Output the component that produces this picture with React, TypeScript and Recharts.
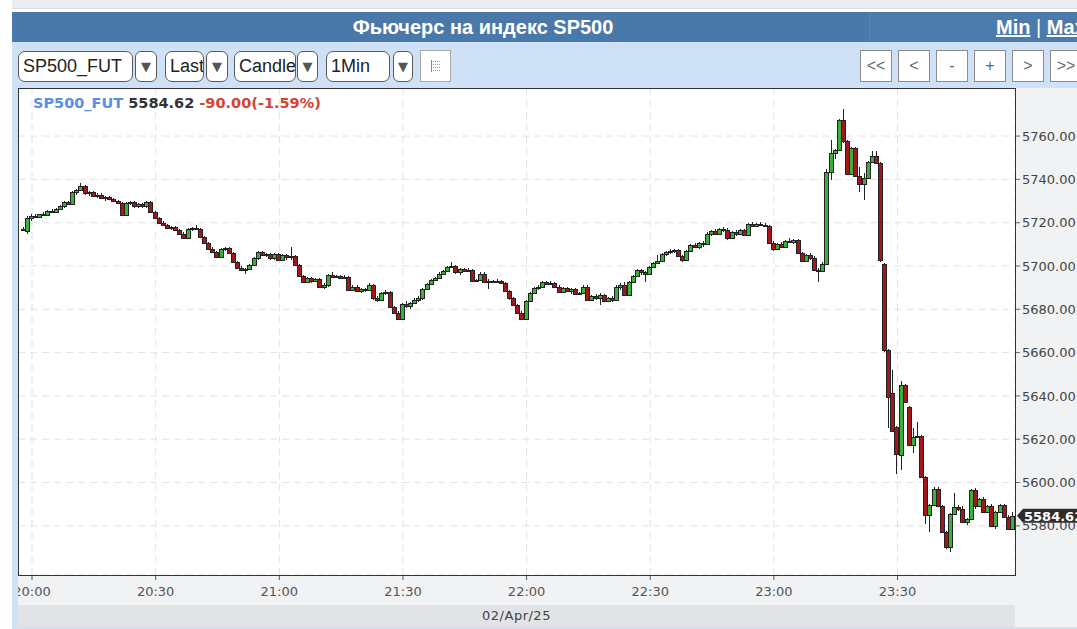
import React from 'react';
import { ComposedChart, Bar, XAxis, YAxis, CartesianGrid, ReferenceLine } from 'recharts';

const title = 'Фьючерс на индекс SP500';
const symbol = 'SP500_FUT';
const priceField = 'Last';
const chartType = 'Candle';
const barInterval = '1Min';
const navButtons = ['<<', '<', '-', '+', '>', '>>'];
const dateLabel = '02/Apr/25';
const lastPrice = 5584.62;
const changeAbs = -90.0;
const changePct = -1.59;

const firstCandleTime = '19:58';
const timeTicks = ['20:00', '20:30', '21:00', '21:30', '22:00', '22:30', '23:00', '23:30'];
const priceTicks = [5580, 5600, 5620, 5640, 5660, 5680, 5700, 5720, 5740, 5760];

// one-minute candles: [open, high, low, close]
const candles1958 = [
  [5717, 5718, 5716, 5717], [5716, 5723, 5715, 5722],
];

const candles20 = [
  [5722, 5724, 5721, 5723], [5723, 5724, 5722, 5722.5], [5722.5, 5724, 5722, 5724], [5724, 5725, 5723, 5723.5],
  [5723.5, 5726, 5723, 5725.5], [5725.5, 5726.5, 5724.5, 5725], [5725, 5727, 5724.5, 5726.5], [5726.5, 5728, 5726, 5727.5],
  [5727.5, 5730, 5727, 5729.5], [5729.5, 5730, 5728, 5728.5], [5728.5, 5734.5, 5728, 5734], [5734, 5735.5, 5733, 5735],
  [5735, 5738.5, 5734.5, 5737], [5737, 5737.5, 5733, 5733.5], [5733.5, 5734.5, 5732.5, 5734], [5734, 5734.5, 5732, 5732.5],
  [5732.5, 5733.5, 5731.5, 5733], [5733, 5733.5, 5731, 5731.5], [5731.5, 5732.5, 5730, 5732], [5732, 5732.5, 5730.5, 5731],
  [5731, 5731.5, 5729.5, 5730], [5730, 5730.5, 5728.5, 5729], [5729, 5729.5, 5723, 5723.5], [5723.5, 5729.5, 5723, 5729],
  [5729, 5730, 5728, 5729.5], [5729.5, 5730, 5727, 5727.5], [5727.5, 5729, 5727, 5728.5], [5728.5, 5729, 5727, 5727.5],
  [5727.5, 5730, 5727, 5729.5], [5729.5, 5730, 5724.5, 5725], [5725, 5725.5, 5721.5, 5722], [5722, 5722.5, 5719.5, 5720],
  [5720, 5721, 5718.5, 5719], [5719, 5719.5, 5717, 5717.5], [5717.5, 5718.5, 5716.5, 5718], [5718, 5718.5, 5716, 5716.5],
  [5716.5, 5717, 5714.5, 5715], [5715, 5715.5, 5712.5, 5713], [5713, 5717.5, 5712.5, 5717], [5717, 5718, 5716, 5717.5],
  [5717.5, 5719, 5716.5, 5717], [5717, 5717.5, 5713, 5713.5], [5713.5, 5714, 5710, 5710.5], [5710.5, 5711, 5707.5, 5708],
  [5708, 5709, 5706, 5706.5], [5706.5, 5707, 5703.5, 5704], [5704, 5708.5, 5703.5, 5708], [5708, 5709, 5707, 5708.5],
  [5708.5, 5709, 5705.5, 5706], [5706, 5706.5, 5701.5, 5702], [5702, 5702.5, 5698.5, 5699], [5699, 5700, 5697.5, 5698],
  [5698, 5699, 5696.5, 5698.5], [5698.5, 5701, 5698, 5700.5], [5700.5, 5704, 5700, 5703.5], [5703.5, 5707, 5703, 5706.5],
  [5706.5, 5707, 5704.5, 5705], [5705, 5706, 5704, 5705.5], [5705.5, 5706, 5703, 5703.5], [5703.5, 5706, 5703, 5705.5],
];

const candles21 = [
  [5705.5, 5706, 5702.5, 5703], [5703, 5705.5, 5702.5, 5705], [5705, 5705.5, 5703, 5704], [5704, 5709, 5703, 5704.5],
  [5704.5, 5705, 5700, 5700.5], [5700.5, 5701, 5695, 5695.5], [5695.5, 5696, 5692, 5692.5], [5692.5, 5695, 5692, 5694.5],
  [5694.5, 5695, 5692, 5693], [5693, 5694.5, 5692.5, 5694], [5694, 5694.5, 5690, 5690.5], [5690.5, 5692, 5689.5, 5691],
  [5691, 5696.5, 5690.5, 5696], [5696, 5697, 5694.5, 5695], [5695, 5696, 5694.5, 5695.5], [5695.5, 5696, 5694, 5694.5],
  [5694.5, 5696, 5694, 5695], [5695, 5695.5, 5688.5, 5689], [5689, 5691, 5688.5, 5690.5], [5690.5, 5691, 5688, 5688.5],
  [5688.5, 5690, 5687.5, 5689.5], [5689.5, 5690, 5688, 5689], [5689, 5692, 5688.5, 5691], [5691, 5691.5, 5684.5, 5685],
  [5685, 5686, 5683.5, 5684.5], [5684.5, 5688, 5684, 5687.5], [5687.5, 5689, 5686.5, 5688], [5688, 5688.5, 5680.5, 5681],
  [5681, 5681.5, 5678, 5678.5], [5678.5, 5679, 5675, 5675.5], [5675.5, 5683, 5675, 5682.5], [5682.5, 5684, 5680.5, 5681.5],
  [5681.5, 5683.5, 5680, 5683], [5683, 5685, 5682.5, 5684.5], [5684.5, 5686, 5683.5, 5685], [5685, 5690, 5684.5, 5689.5],
  [5689.5, 5692, 5689, 5691.5], [5691.5, 5694, 5691, 5693.5], [5693.5, 5695, 5693, 5694.5], [5694.5, 5697, 5694, 5696.5],
  [5696.5, 5698, 5696, 5697.5], [5697.5, 5700, 5697, 5699.5], [5699.5, 5702, 5699, 5700], [5700, 5700.5, 5696.5, 5697],
  [5697, 5699, 5696, 5698.5], [5698.5, 5699, 5697, 5697.5], [5697.5, 5699, 5697, 5698], [5698, 5698.5, 5692.5, 5693],
  [5693, 5694, 5692.5, 5693.5], [5693.5, 5697, 5693, 5696.5], [5696.5, 5697, 5692, 5692.5], [5692.5, 5694, 5689.5, 5693],
  [5693, 5693.5, 5692, 5692.5], [5692.5, 5694, 5692, 5693], [5693, 5693.5, 5691.5, 5692], [5692, 5692.5, 5688, 5688.5],
  [5688.5, 5689, 5684.5, 5685], [5685, 5685.5, 5681.5, 5682], [5682, 5682.5, 5678, 5678.5], [5678.5, 5679, 5675, 5675.5],
];

const candles22 = [
  [5675.5, 5684.5, 5675, 5684], [5684, 5688, 5683.5, 5687.5], [5687.5, 5690.5, 5687, 5690], [5690, 5691, 5689, 5690.5],
  [5690.5, 5693, 5690, 5692.5], [5692.5, 5693, 5691, 5691.5], [5691.5, 5693, 5691, 5692], [5692, 5692.5, 5690, 5690.5],
  [5690.5, 5691, 5687.5, 5688], [5688, 5690.5, 5687.5, 5690], [5690, 5690.5, 5688, 5688.5], [5688.5, 5690, 5687, 5689.5],
  [5689.5, 5690, 5686.5, 5687], [5687, 5688, 5686.5, 5687.5], [5687.5, 5691, 5687, 5690.5], [5690.5, 5691, 5684, 5684.5],
  [5684.5, 5686.5, 5684, 5686], [5686, 5687, 5684.5, 5685], [5685, 5687.5, 5682, 5686.5], [5686.5, 5687, 5683.5, 5684],
  [5684, 5685.5, 5683.5, 5685], [5685, 5686, 5683.5, 5684.5], [5684.5, 5691, 5684, 5690.5], [5690.5, 5692, 5689, 5691],
  [5691, 5692.5, 5686, 5686.5], [5686.5, 5693, 5686, 5692.5], [5692.5, 5696, 5692, 5695.5], [5695.5, 5698.5, 5695, 5698],
  [5698, 5698.5, 5696, 5697], [5697, 5697.5, 5692.5, 5696.5], [5696.5, 5700, 5696, 5699.5], [5699.5, 5702, 5699, 5701.5],
  [5701.5, 5705, 5701, 5702.5], [5702.5, 5706, 5702, 5705.5], [5705.5, 5707, 5704.5, 5706.5], [5706.5, 5708, 5705.5, 5707],
  [5707, 5708, 5706, 5707.5], [5707.5, 5708, 5704, 5704.5], [5704.5, 5705, 5702, 5703], [5703, 5707.5, 5702.5, 5707],
  [5707, 5710, 5706.5, 5709.5], [5709.5, 5710.5, 5708.5, 5709], [5709, 5711, 5708, 5710.5], [5710.5, 5711.5, 5709, 5710],
  [5710, 5715.5, 5709.5, 5715], [5715, 5716.5, 5714, 5716], [5716, 5717, 5714.5, 5715], [5715, 5717.5, 5714.5, 5717],
  [5717, 5718, 5715.5, 5716.5], [5716.5, 5717.5, 5712, 5713], [5713, 5716, 5712.5, 5715.5], [5715.5, 5716.5, 5714, 5715],
  [5715, 5717, 5714.5, 5716.5], [5716.5, 5717, 5714, 5714.5], [5714.5, 5720, 5714, 5719.5], [5719.5, 5720.5, 5718, 5718.5],
  [5718.5, 5720, 5718, 5719.5], [5719.5, 5720.5, 5718.5, 5719], [5719, 5720, 5718, 5718.5], [5718.5, 5719, 5710, 5710.5],
];

const candles23 = [
  [5710.5, 5711.5, 5707, 5708], [5708, 5710.5, 5707.5, 5710], [5710, 5711, 5708.5, 5709], [5709, 5712, 5708.5, 5711.5],
  [5711.5, 5713, 5710.5, 5711], [5711, 5712.5, 5710, 5712], [5712, 5712.5, 5705.5, 5706], [5706, 5706.5, 5702, 5702.5],
  [5702.5, 5705.5, 5702, 5705], [5705, 5706, 5703, 5703.5], [5703.5, 5704.5, 5697.5, 5698], [5698, 5699, 5692.5, 5697.5],
  [5697.5, 5702, 5697, 5701], [5701, 5745, 5700.5, 5743.5], [5743.5, 5758, 5739.5, 5752], [5752, 5754, 5749.5, 5753.5],
  [5753.5, 5768, 5753, 5767.5], [5767.5, 5772.5, 5757, 5757.5], [5757.5, 5758, 5742, 5742.5], [5742.5, 5755, 5742, 5754.5],
  [5754.5, 5755, 5741, 5741.5], [5741.5, 5745.5, 5734, 5738], [5738, 5743, 5730.5, 5740.5], [5740.5, 5748.5, 5740, 5748],
  [5748, 5753, 5747.5, 5751], [5751, 5753, 5747, 5747.5], [5747.5, 5748, 5702, 5703], [5701, 5701.5, 5660.5, 5661],
  [5661, 5661.5, 5625, 5639.5], [5641.5, 5652, 5623.5, 5624], [5625.5, 5626, 5604, 5613], [5612.5, 5647, 5606, 5645],
  [5645, 5645.5, 5636.5, 5637], [5635, 5635.5, 5617, 5617.5], [5617.5, 5625, 5613.5, 5621], [5621, 5628, 5620.5, 5621.5],
  [5621.5, 5622, 5602, 5602.5], [5602.5, 5603, 5581, 5585], [5585, 5590, 5577, 5589.5], [5589.5, 5598, 5589, 5597],
  [5597, 5598, 5588.5, 5589], [5589, 5589.5, 5576.5, 5577], [5577, 5577.5, 5569.5, 5570], [5570, 5586, 5568, 5585.5],
  [5585.5, 5595, 5585, 5588.5], [5588.5, 5589.5, 5587, 5588], [5588, 5589, 5581.5, 5582], [5582, 5583.5, 5580.5, 5583],
  [5583, 5597, 5582.5, 5596.5], [5596.5, 5597.5, 5588, 5589], [5589, 5593, 5588.5, 5592.5], [5592.5, 5593.5, 5586, 5586.5],
  [5586.5, 5589.5, 5586, 5589], [5589, 5590, 5579.5, 5580], [5580, 5587, 5578.5, 5586.5], [5586.5, 5590, 5586, 5589.5],
  [5589.5, 5590, 5583.5, 5584], [5584, 5585, 5578, 5578.5], [5578.5, 5586.5, 5578, 5584.62],
];

const toMin = (t: string) => {
  const [h, m] = t.split(':').map(Number);
  return h * 60 + m;
};
const baseMin = toMin(timeTicks[0]);
const firstMin = toMin(firstCandleTime) - baseMin;
const tickValues = timeTicks.map((t) => toMin(t) - baseMin);

const data = [...candles1958, ...candles20, ...candles21, ...candles22, ...candles23].map((ohlc, i) => ({
  t: firstMin + i,
  range: [ohlc[2], ohlc[1]],
  ohlc,
}));

const UP = '#38b03a';
const DOWN = '#a3171b';
const OUTLINE = '#222';

const Candle = (props: any) => {
  const { x, y, width, height, payload } = props;
  if (x == null || y == null || !payload) return null;
  const [o, h, l, c] = payload.ohlc;
  const top = Math.min(y, y + height);
  const span = Math.abs(height);
  const k = h > l ? span / (h - l) : 0;
  const py = (v: number) => top + (h - v) * k;
  const cx = Math.round(x + width / 2);
  const bTop = Math.round(py(Math.max(o, c)));
  const bBot = Math.round(py(Math.min(o, c)));
  return (
    <g shapeRendering="crispEdges">
      <line x1={cx - 0.5} x2={cx - 0.5} y1={top} y2={top + span} stroke={OUTLINE} strokeWidth={1} />
      <rect
        x={cx - 2.5}
        y={bTop + 0.5}
        width={4}
        height={Math.max(1, bBot - bTop)}
        fill={c >= o ? UP : DOWN}
        stroke={OUTLINE}
        strokeWidth={1}
      />
    </g>
  );
};

const PriceTag = (props: any) => {
  const vb = props.viewBox || {};
  const x = vb.x + vb.width;
  const y = vb.y;
  return (
    <g>
      <path d={`M${x + 2},${y} L${x + 8},${y - 7} L${x + 70},${y - 7} L${x + 70},${y + 7} L${x + 8},${y + 7} Z`} fill="#2c2c2c" />
      <text x={x + 9} y={y + 5} fill="#fff" fontSize={13} fontWeight="bold" fontFamily="DejaVu Sans">
        {lastPrice.toFixed(2)}
      </text>
    </g>
  );
};

const SelectBox = ({ left, width, arrowLeft, arrowWidth, label }: any) => (
  <>
    <div
      style={{
        position: 'absolute', left, top: 51, width, height: 31, boxSizing: 'border-box',
        border: '1px solid #5a5a5a', borderRadius: 7, background: '#fff', color: '#222',
        font: '18px "Liberation Sans", Arial, sans-serif', lineHeight: '29px', paddingLeft: 4,
        overflow: 'hidden', whiteSpace: 'nowrap',
      }}
    >
      {label}
    </div>
    <div
      style={{
        position: 'absolute', left: arrowLeft, top: 51, width: arrowWidth, height: 31, boxSizing: 'border-box',
        border: '1px solid #5a5a5a', borderRadius: 6, background: '#fff', color: '#555',
        font: '13px "DejaVu Sans", sans-serif', lineHeight: '29px', textAlign: 'center',
      }}
    >
      ▼
    </div>
  </>
);

const navLefts = [860, 898, 936, 974, 1012, 1050];

const App = () => {
  const plotLeft = 18;
  const plotTop = 88;
  return (
    <div style={{ position: 'absolute', left: 0, top: 0, width: 1077, height: 629, overflow: 'hidden', background: '#fff' }}>
      <div style={{ position: 'absolute', left: 12, top: 0, width: 1065, height: 8, background: '#eaecef', borderBottom: '1px solid #dcdfe3' }} />
      <div style={{ position: 'absolute', left: 12, top: 42, width: 1065, height: 587, background: '#cfe1f6' }} />
      {/* title bar */}
      <div style={{ position: 'absolute', left: 12, top: 12, width: 857, height: 30, background: '#4a79a9' }} />
      <div style={{ position: 'absolute', left: 869, top: 12, width: 208, height: 30, background: '#4b7aab', borderLeft: '1px solid #5684b3' }} />
      <div
        style={{
          position: 'absolute', left: 283, top: 12, width: 400, height: 30, textAlign: 'center', color: '#fff',
          font: 'bold 20px "Liberation Sans", Arial, sans-serif', lineHeight: '30px',
        }}
      >
        {title}
      </div>
      <div
        style={{
          position: 'absolute', left: 996, top: 12, height: 30, color: '#fff', whiteSpace: 'nowrap',
          font: 'bold 20px "Liberation Sans", Arial, sans-serif', lineHeight: '30px',
        }}
      >
        <span style={{ textDecoration: 'underline' }}>Min</span>
        <span style={{ fontWeight: 'normal' }}> | </span>
        <span style={{ textDecoration: 'underline' }}>Max</span>
      </div>

      {/* toolbar */}
      <SelectBox left={18} width={115} arrowLeft={135} arrowWidth={22} label={symbol} />
      <SelectBox left={165} width={39} arrowLeft={206} arrowWidth={22} label={priceField} />
      <SelectBox left={234} width={62} arrowLeft={297} arrowWidth={21} label={chartType} />
      <SelectBox left={326} width={64} arrowLeft={393} arrowWidth={20} label={barInterval} />
      <div style={{ position: 'absolute', left: 420, top: 50, width: 31, height: 32, boxSizing: 'border-box', border: '1px solid #a9a9a9', background: '#fff' }}>
        <svg width={29} height={30} style={{ display: 'block' }}>
          <line x1={10.5} x2={10.5} y1={9} y2={21} stroke="#888" />
          {[10, 13, 16, 19].map((yy) => (
            <line key={yy} x1={12} x2={19} y1={yy + 0.5} y2={yy + 0.5} stroke="#999" strokeDasharray="1 1" />
          ))}
        </svg>
      </div>
      {navButtons.map((b, i) => (
        <div
          key={b + i}
          style={{
            position: 'absolute', left: navLefts[i], top: 50, width: 32, height: 32, boxSizing: 'border-box',
            border: '1px solid #8c8c8c', background: '#fff', color: '#666', textAlign: 'center',
            font: '16px "Liberation Sans", Arial, sans-serif', lineHeight: '30px',
          }}
        >
          {b}
        </div>
      ))}

      {/* chart */}
      <div style={{ position: 'absolute', left: plotLeft, top: plotTop, width: 1059, height: 517, overflow: 'hidden', background: '#f1f2f4' }}>
        <div style={{ position: 'absolute', left: 0, top: 0, width: 997, height: 487, background: '#fff' }} />
        <div style={{ position: 'absolute', left: 0, top: 0 }}>
          <ComposedChart width={1059} height={517} data={data} margin={{ top: 0, right: 0, bottom: 0, left: 0 }}>
            <CartesianGrid stroke="#e2e2e2" strokeDasharray="7 5" />
            <XAxis
              type="number"
              dataKey="t"
              domain={[-3.4, 238.5]}
              allowDataOverflow
              ticks={tickValues}
              interval={0}
              tickFormatter={(v: number) => timeTicks[tickValues.indexOf(v)] ?? ''}
              height={30}
              axisLine={false}
              tickSize={5}
              tickMargin={7}
              tickLine={{ stroke: '#555' }}
              tick={{ fill: '#555', fontSize: 13, fontFamily: 'DejaVu Sans' }}
            />
            <YAxis
              orientation="right"
              width={62}
              domain={[5557.3, 5782.2]}
              allowDataOverflow
              ticks={priceTicks}
              interval={0}
              tickFormatter={(v: number) => v.toFixed(2)}
              axisLine={false}
              tickSize={5}
              tickMargin={2}
              tickLine={{ stroke: '#666' }}
              tick={{ fill: '#444', fontSize: 13, fontFamily: 'DejaVu Sans' }}
            />
            <Bar dataKey="range" shape={Candle} barSize={4} isAnimationActive={false} />
            <ReferenceLine y={lastPrice} stroke="none" label={<PriceTag />} />
          </ComposedChart>
        </div>
        <div style={{ position: 'absolute', left: 0, top: 0, width: 998, height: 488, boxSizing: 'border-box', border: '1px solid #333', pointerEvents: 'none' }} />
        <div
          style={{
            position: 'absolute', left: 15, top: 7, whiteSpace: 'nowrap',
            font: 'bold 14.5px "DejaVu Sans", sans-serif', lineHeight: '16px',
          }}
        >
          <span style={{ color: '#5b8ee6' }}>{symbol}</span>{' '}
          <span style={{ color: '#333' }}>{lastPrice.toFixed(2)}</span>{' '}
          <span style={{ color: '#d9432f' }}>
            {changeAbs.toFixed(2)}({changePct.toFixed(2)}%)
          </span>
        </div>
      </div>
      <div
        style={{
          position: 'absolute', left: 18, top: 605, width: 997, height: 22, background: '#e2e3e6',
          textAlign: 'center', color: '#444', font: '13px "DejaVu Sans", sans-serif', lineHeight: '22px',
          letterSpacing: 0.5,
        }}
      >
        {dateLabel}
      </div>
      <div style={{ position: 'absolute', left: 1015, top: 605, width: 62, height: 22, background: '#f1f2f4' }} />
    </div>
  );
};

export default App;
